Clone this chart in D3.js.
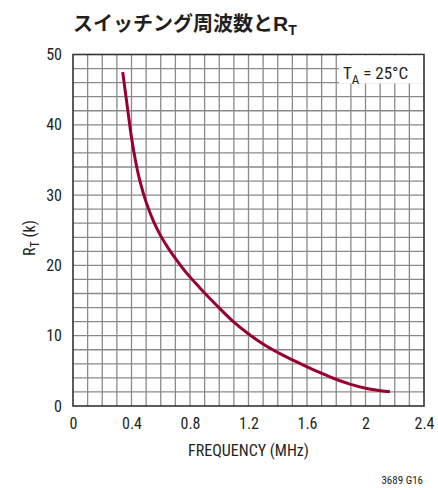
<!DOCTYPE html>
<html>
<head>
<meta charset="utf-8">
<script src="https://cdn.jsdelivr.net/npm/d3@7"></script>
<style>
  html, body { margin: 0; padding: 0; background: #fff; }
  svg { display: block; }
  .num { font-family: "Liberation Sans Narrow", "Roboto Condensed", "Arial Narrow", "Liberation Sans", sans-serif; fill: #231f20; }
</style>
</head>
<body>
<svg id="chart" width="438" height="488"></svg>
<script>
// Switching frequency (MHz) vs timing resistor RT (kΩ), TA = 25°C
const frequency = [0.34, 0.37, 0.4, 0.43, 0.46, 0.5, 0.55, 0.6, 0.65, 0.7,
                   0.777, 0.868, 0.983, 1.096, 1.21, 1.324, 1.438, 1.552,
                   1.666, 1.78, 1.894, 2.008, 2.167];
const rt = [47.5, 42.8, 38.2, 34.6, 31.8, 29.0, 26.3, 24.2, 22.5, 21.0,
            18.9, 16.8, 14.3, 12.0, 10.1, 8.5, 7.2, 6.05,
            4.95, 3.95, 3.12, 2.5, 2.03];

const xTicks = [0, 0.4, 0.8, 1.2, 1.6, 2, 2.4];
const yTicks = [0, 10, 20, 30, 40, 50];
const xTickLabels = ["0", "0.4", "0.8", "1.2", "1.6", "2", "2.4"];
const yTickLabels = ["0", "10", "20", "30", "40", "50"];

const svg = d3.select("#chart");
const plot = { left: 73, right: 424, top: 54.5, bottom: 406 };

const x = d3.scaleLinear().domain([0, 2.4]).range([plot.left, plot.right]);
const y = d3.scaleLinear().domain([0, 50]).range([plot.bottom, plot.top]);

// Title
const title = svg.append("text")
  .attr("x", 73).attr("y", 31)
  .attr("font-family", "'Noto Sans CJK JP', sans-serif")
  .attr("font-weight", "bold")
  .attr("font-size", 20)
  .attr("fill", "#231f20");
title.append("tspan").text("スイッチング周波数と");
title.append("tspan").attr("font-family", "'Liberation Sans Narrow', 'Liberation Sans', sans-serif").attr("font-size", 21).text("R");
title.append("tspan").attr("font-family", "'Liberation Sans Narrow', 'Liberation Sans', sans-serif").attr("font-size", 14).attr("dy", 4).text("T");

// Grid: 0.1 MHz steps across, 2 k steps up
const g = svg.append("g");
g.selectAll("line.vx").data(d3.range(1, 24).map(i => i / 10)).join("line")
  .attr("x1", d => x(d)).attr("x2", d => x(d))
  .attr("y1", plot.top).attr("y2", plot.bottom)
  .attr("stroke", "#8a8a8a").attr("stroke-width", 1.3);
g.selectAll("line.hy").data(d3.range(1, 25).map(i => i * 2)).join("line")
  .attr("y1", d => y(d)).attr("y2", d => y(d))
  .attr("x1", plot.left).attr("x2", plot.right)
  .attr("stroke", "#8a8a8a").attr("stroke-width", 1.3);

// Frame
svg.append("rect")
  .attr("x", plot.left).attr("y", plot.top)
  .attr("width", plot.right - plot.left).attr("height", plot.bottom - plot.top)
  .attr("fill", "none").attr("stroke", "#333").attr("stroke-width", 1.6);

// Axes (labels only, grid draws the ticks)
const xAxis = d3.axisBottom(x).tickValues(xTicks)
  .tickFormat((d, i) => xTickLabels[i]).tickSize(0).tickPadding(12);
svg.append("g").attr("transform", `translate(0,${plot.bottom})`).call(xAxis)
  .call(a => a.select(".domain").remove())
  .call(a => a.selectAll("text").attr("class", "num").attr("font-size", 16));

const yAxis = d3.axisLeft(y).tickValues(yTicks)
  .tickFormat((d, i) => yTickLabels[i]).tickSize(0).tickPadding(11);
svg.append("g").attr("transform", `translate(${plot.left},0)`).call(yAxis)
  .call(a => a.select(".domain").remove())
  .call(a => a.selectAll("text").attr("class", "num").attr("font-size", 16));

// Axis titles
svg.append("text").attr("class", "num")
  .attr("x", (plot.left + plot.right) / 2).attr("y", 456)
  .attr("text-anchor", "middle").attr("font-size", 16)
  .text("FREQUENCY (MHz)");

const yt = svg.append("text").attr("class", "num")
  .attr("transform", "translate(35,238) rotate(-90)")
  .attr("text-anchor", "middle").attr("font-size", 16);
yt.append("tspan").text("R");
yt.append("tspan").attr("font-size", 12).attr("dy", 4).text("T");
yt.append("tspan").attr("dy", -4).text(" (k)");

// Condition label
svg.append("rect")
  .attr("x", 339).attr("y", plot.top + 1)
  .attr("width", plot.right - 339 - 1).attr("height", 28)
  .attr("fill", "#fff");
const cond = svg.append("text").attr("class", "num")
  .attr("x", 343).attr("y", 79).attr("font-size", 17);
cond.append("tspan").text("T");
cond.append("tspan").attr("font-size", 13).attr("dy", 5).text("A");
cond.append("tspan").attr("dy", -5).text(" = 25°C");

// Curve
const line = d3.line()
  .x((d, i) => x(frequency[i]))
  .y(d => y(d))
  .curve(d3.curveCatmullRom.alpha(0.5));
svg.append("path")
  .datum(rt)
  .attr("d", line)
  .attr("fill", "none")
  .attr("stroke", "#98002e")
  .attr("stroke-width", 3);

// Figure code
svg.append("text").attr("class", "num")
  .attr("x", 423).attr("y", 484).attr("text-anchor", "end")
  .attr("font-size", 11).text("3689 G16");
</script>
</body>
</html>
